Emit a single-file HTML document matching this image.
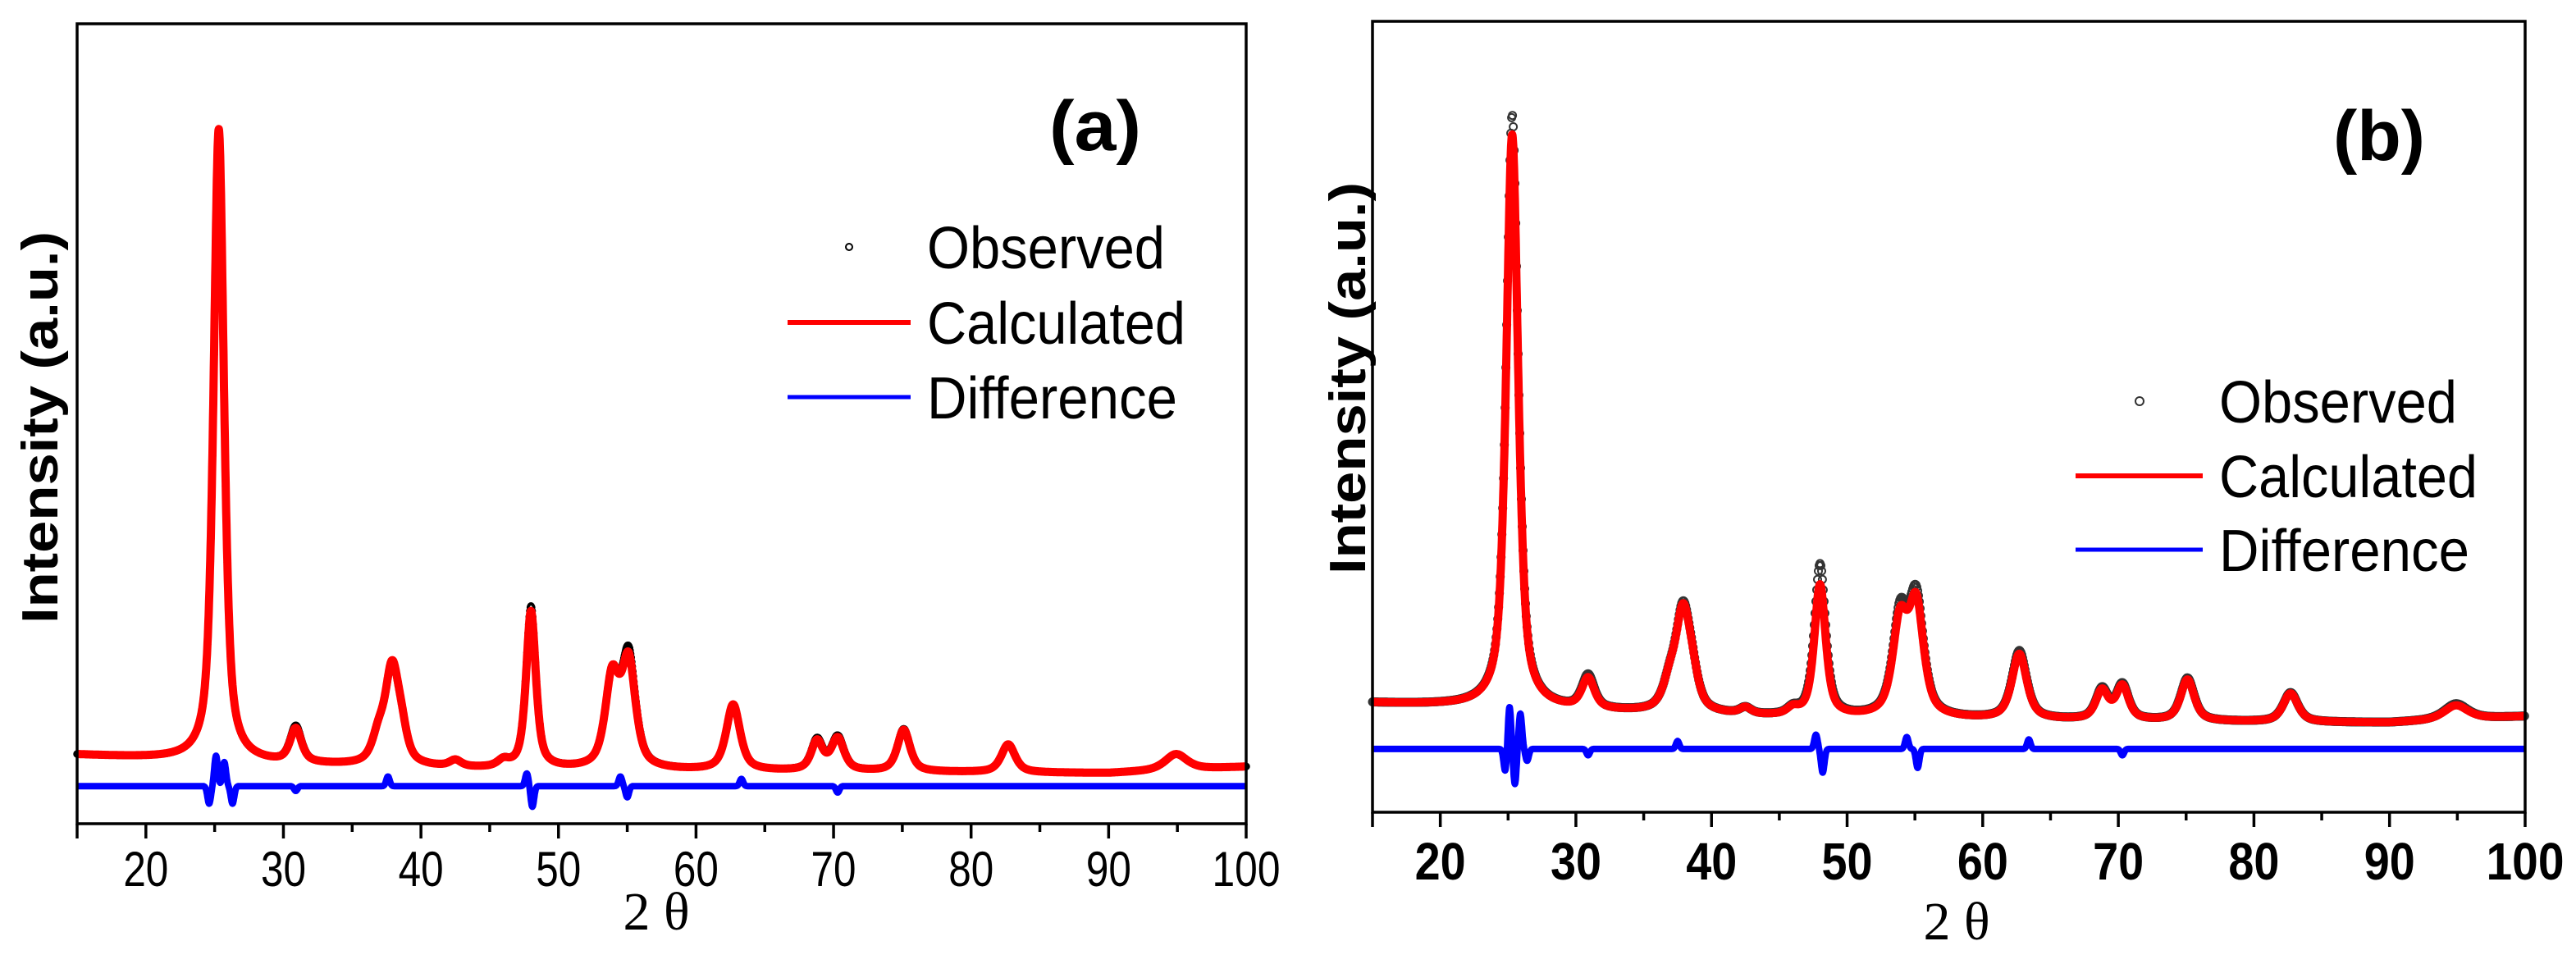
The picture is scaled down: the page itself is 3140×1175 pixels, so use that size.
<!DOCTYPE html>
<html><head><meta charset="utf-8"><style>
html,body{margin:0;padding:0;background:#fff;}
svg{display:block;}
</style></head><body>
<svg id="chart" width="3140" height="1175" viewBox="0 0 3140 1175" xmlns="http://www.w3.org/2000/svg">
<rect x="0" y="0" width="3140" height="1175" fill="#fff"/>
<g id="panelA"></g>
<g id="panelB"></g>
</svg>
<script>
// ---------- shared data ----------
const xTicks = [20,30,40,50,60,70,80,90,100];
const xMinorTicks = [15,25,35,45,55,65,75,85,95];
const peakPos = [25.3,30.9,36.9,37.9,38.6,42.5,46.0,48.0,53.9,55.1,62.7,68.8,70.3,75.1,82.7,94.9];

// ---------- panel (a) data ----------
const bgXA = [15,20,30,45,60,80,90,100];
const bgA = [86,82,74,68,66,64,63,71];
const calcHA = [790,42,30,118,28,8,8,196,110,130,82,36,40,52,35,20];
const obsHA  = [782,45,30,116,28,8,8,202,108,138,82,38,42,53,35,20];
const widthA = [0.9,1.0,1.1,1.2,1.0,1.0,1.0,0.85,1.2,1.2,1.2,1.0,1.1,1.1,1.2,1.9];
const diffBaseA = 47;
const diffPosA = [24.6,25.1,25.7,26.3,30.9,37.6,47.7,48.1,54.5,55.0,63.3,70.3];
const diffAmpA = [-22,38,30,-22,-6,12,16,-26,12,-14,9,-8];

// ---------- panel (b) data ----------
const bgXB = [15,20,30,45,60,80,90,100];
const bgB = [138,135,128,120,117,114,113,121];
const calcHB = [725,38,30,122,28,8,8,166,115,137,82,36,42,52,36,18];
const obsHB  = [750,42,30,125,28,8,8,192,123,145,86,38,44,54,37,20];
const widthB = [1.05,1.1,1.2,1.3,1.1,1.0,1.0,1.0,1.3,1.3,1.3,1.1,1.1,1.2,1.3,2.1];
const diffBaseB = 80;
const diffPosB = [24.8,25.1,25.5,25.9,26.4,30.9,37.5,47.7,48.2,54.4,55.2,63.4,70.3];
const diffAmpB = [-30,55,-45,45,-15,-8,10,18,-30,15,-24,12,-8];

const NS = 'http://www.w3.org/2000/svg';
function mk(tag, attrs, parent){
  const e = document.createElementNS(NS, tag);
  for (const k in attrs) e.setAttribute(k, attrs[k]);
  if (parent) parent.appendChild(e);
  return e;
}
function interp(xs, ys, x){
  if (x <= xs[0]) return ys[0];
  for (let i=1;i<xs.length;i++){
    if (x <= xs[i]){ const t=(x-xs[i-1])/(xs[i]-xs[i-1]); return ys[i-1]+t*(ys[i]-ys[i-1]); }
  }
  return ys[ys.length-1];
}
function profile(x, pos, h, w, bgx, bg){
  let v = interp(bgx, bg, x);
  for (let i=0;i<pos.length;i++){
    const d = (x-pos[i])/(w[i]/2);
    v += h[i]*(0.65/(1+d*d) + 0.35*Math.exp(-0.693*d*d));
  }
  return v;
}
function diffProfile(x, base, pos, amp){
  let v = base;
  for (let i=0;i<pos.length;i++){
    const d=(x-pos[i])/0.18;
    v += amp[i]*Math.exp(-d*d);
  }
  return v;
}

function drawPanel(g, cfg){
  const sx = v => cfg.left + (v-15)/(100-15)*(cfg.right-cfg.left);
  const sy = v => cfg.bottom - v/1000*(cfg.bottom-cfg.top);
  const xs=[]; for (let x=15; x<=100.0001; x+=0.02) xs.push(x);

  const og = mk('g',{},g);
  
  
  for (let i=0;i<xs.length;i+=cfg.obsStep){
    const x=xs[i];
    const c = mk('circle',{cx:sx(x).toFixed(1),cy:sy(profile(x,peakPos,cfg.obsH,cfg.w,cfg.bgX,cfg.bg)).toFixed(1),r:cfg.obsR,fill:'none',stroke:cfg.obsColor,'stroke-width':cfg.obsSW},og);
    
    
  }
  let d='';
  xs.forEach((x,i)=>{ d+=(i?'L':'M')+sx(x).toFixed(1)+','+sy(profile(x,peakPos,cfg.calcH,cfg.w,cfg.bgX,cfg.bg)).toFixed(1); });
  const cl = mk('path',{d:d,fill:'none',stroke:'#ff0000','stroke-width':cfg.lineW,'stroke-linejoin':'round'},g);
  
  
  let dd='';
  xs.forEach((x,i)=>{ dd+=(i?'L':'M')+sx(x).toFixed(1)+','+sy(diffProfile(x,cfg.diffBase,cfg.diffPos,cfg.diffAmp)).toFixed(1); });
  const dl = mk('path',{d:dd,fill:'none',stroke:'#0000ff','stroke-width':cfg.lineW-2,'stroke-linejoin':'round'},g);
  
  

  const fr = mk('rect',{x:cfg.left,y:cfg.top,width:cfg.right-cfg.left,height:cfg.bottom-cfg.top,fill:'none',stroke:'#000','stroke-width':3.5},g);
  
  

  const tg = mk('g',{},g);
  
  
  xTicks.forEach(t=>{
    mk('line',{x1:sx(t),x2:sx(t),y1:cfg.bottom,y2:cfg.bottom+18,stroke:'#000','stroke-width':3.5},tg);
    const tx = mk('text',{x:sx(t),y:cfg.tickBase,'text-anchor':'middle','font-family':'Liberation Sans, sans-serif','font-size':cfg.tickFS,'font-weight':cfg.tickFW,textLength:(t>=100?cfg.tw3:cfg.tw2),lengthAdjust:'spacingAndGlyphs'},tg);
    tx.textContent = String(t);
    
    
  });
  xMinorTicks.forEach(t=>{
    mk('line',{x1:sx(t),x2:sx(t),y1:cfg.bottom,y2:cfg.bottom+(t===15?18:10),stroke:'#000','stroke-width':3.5},tg);
  });
  const xt = mk('text',{x:cfg.xTitleX,y:cfg.xTitleY,'text-anchor':'middle','font-family':'Liberation Serif, serif','font-size':66},g);
  xt.textContent='2 θ';
  
  

  const yt = mk('text',{x:0,y:0,'text-anchor':'middle','font-family':'Liberation Sans, sans-serif','font-size':62,'font-weight':'bold',textLength:478,lengthAdjust:'spacingAndGlyphs',transform:'translate('+cfg.yTitleX+','+cfg.yTitleY+') rotate(-90)'},g);
  yt.textContent='Intensity (a.u.)';
  
  

  const pl = mk('text',{x:cfg.labX,y:cfg.labY,'text-anchor':'middle','font-family':'Liberation Sans, sans-serif','font-size':86,'font-weight':'bold',textLength:112,lengthAdjust:'spacingAndGlyphs'},g);
  pl.textContent=cfg.label;
  
  

  const lg = mk('g',{},g);
  
  
  mk('circle',{cx:cfg.legMX,cy:cfg.legY[0],r:cfg.obsR+0.5,fill:'none',stroke:cfg.obsColor,'stroke-width':2},lg);
  mk('line',{x1:cfg.legLX1,x2:cfg.legLX2,y1:cfg.legY[1],y2:cfg.legY[1],stroke:'#ff0000','stroke-width':6},lg);
  mk('line',{x1:cfg.legLX1,x2:cfg.legLX2,y1:cfg.legY[2],y2:cfg.legY[2],stroke:'#0000ff','stroke-width':5},lg);
  const names=['Observed','Calculated','Difference'];
  const lens=[290,315,305];
  names.forEach((n,i)=>{
    const t = mk('text',{x:cfg.legTX,y:cfg.legY[i]+26,'font-family':'Liberation Sans, sans-serif','font-size':72,textLength:lens[i],lengthAdjust:'spacingAndGlyphs'},lg);
    t.textContent=n;
    
    
  });
}

drawPanel(document.getElementById('panelA'),{
  left:94,right:1519,top:29,bottom:1004,
  bgX:bgXA,bg:bgA,calcH:calcHA,obsH:obsHA,w:widthA,
  diffBase:diffBaseA,diffPos:diffPosA,diffAmp:diffAmpA,
  obsStep:2,obsR:3.5,obsSW:2.5,obsColor:'#000',lineW:10,
  tickBase:1080,tickFS:60,tickFW:'normal',tw2:55,tw3:83,
  xTitleX:800,xTitleY:1133,yTitleX:70,yTitleY:521,
  label:'(a)',labX:1335,labY:183,
  legMX:1035,legTX:1130,legLX1:960,legLX2:1110,legY:[301,393,484]
});
drawPanel(document.getElementById('panelB'),{
  left:1673,right:3078,top:26,bottom:990,
  bgX:bgXB,bg:bgB,calcH:calcHB,obsH:obsHB,w:widthB,
  diffBase:diffBaseB,diffPos:diffPosB,diffAmp:diffAmpB,
  obsStep:3,obsR:4.5,obsSW:2,obsColor:'#333',lineW:10,
  tickBase:1072,tickFS:64,tickFW:'bold',tw2:62,tw3:95,
  xTitleX:2385,xTitleY:1145,yTitleX:1664,yTitleY:461,
  label:'(b)',labX:2900,labY:195,
  legMX:2608,legTX:2705,legLX1:2530,legLX2:2685,legY:[489,580,670]
});
</script>
</body></html>
